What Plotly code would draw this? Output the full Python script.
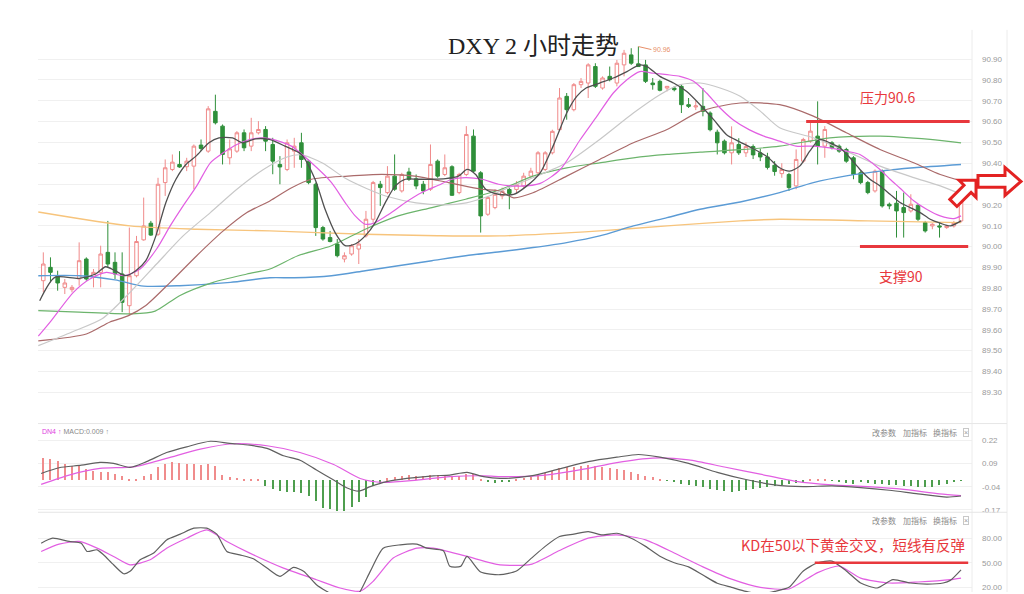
import math
import plotly.graph_objects as go

W, H = 1024, 594

# ---------------- candle data (2h bars) ----------------
OPEN = [89.836, 89.900, 89.860, 89.804, 89.793, 89.844, 89.940, 89.852, 89.876, 89.972,
        89.924, 89.868, 89.716, 89.860, 90.032, 90.112, 90.059, 90.307, 90.370, 90.394,
        90.383, 90.386, 90.487, 90.458, 90.649, 90.578, 90.426, 90.458, 90.546, 90.482,
        90.546, 90.562, 90.490, 90.394, 90.370, 90.458, 90.498, 90.410, 90.299, 90.091,
        90.043, 90.012, 89.940, 89.964, 89.988, 90.051, 90.131, 90.299, 90.259, 90.338,
        90.267, 90.358, 90.325, 90.299, 90.275, 90.410, 90.346, 90.383, 90.259, 90.346,
        90.530, 90.354, 90.155, 90.187, 90.243, 90.274, 90.274, 90.290, 90.338, 90.354,
        90.370, 90.450, 90.561, 90.721, 90.657, 90.777, 90.785, 90.864, 90.761, 90.817,
        90.785, 90.872, 90.920, 90.877, 90.872, 90.785, 90.793, 90.761, 90.761, 90.769,
        90.681, 90.670, 90.673, 90.641, 90.549, 90.506, 90.450, 90.490, 90.450, 90.480,
        90.450, 90.430, 90.390, 90.350, 90.346, 90.291, 90.410, 90.506, 90.530, 90.482,
        90.498, 90.482, 90.466, 90.426, 90.354, 90.307, 90.267, 90.362, 90.203, 90.208,
        90.187, 90.171, 90.198, 90.115, 90.099, 90.099, 90.091, 90.099, 90.123]
HIGH = [89.972, 89.948, 89.884, 89.844, 89.815, 90.020, 89.948, 89.892, 90.004, 90.123,
        89.972, 89.972, 90.091, 90.051, 90.235, 90.123, 90.330, 90.418, 90.442, 90.458,
        90.426, 90.490, 90.514, 90.674, 90.729, 90.586, 90.514, 90.554, 90.562, 90.618,
        90.602, 90.578, 90.522, 90.434, 90.514, 90.522, 90.546, 90.418, 90.307, 90.099,
        90.075, 90.036, 89.972, 90.012, 90.036, 90.171, 90.315, 90.315, 90.386, 90.442,
        90.354, 90.378, 90.346, 90.315, 90.490, 90.418, 90.442, 90.390, 90.354, 90.578,
        90.562, 90.362, 90.243, 90.275, 90.283, 90.290, 90.314, 90.354, 90.378, 90.458,
        90.458, 90.561, 90.761, 90.737, 90.785, 90.809, 90.880, 90.880, 90.817, 90.864,
        90.896, 90.944, 90.952, 90.960, 90.896, 90.809, 90.801, 90.769, 90.770, 90.777,
        90.713, 90.700, 90.761, 90.649, 90.561, 90.514, 90.577, 90.520, 90.500, 90.490,
        90.470, 90.450, 90.410, 90.400, 90.354, 90.466, 90.522, 90.594, 90.697, 90.578,
        90.506, 90.490, 90.474, 90.434, 90.362, 90.315, 90.370, 90.370, 90.211, 90.267,
        90.259, 90.251, 90.203, 90.123, 90.112, 90.115, 90.103, 90.123, 90.259]
LOW = [89.780, 89.828, 89.788, 89.772, 89.780, 89.812, 89.836, 89.804, 89.804, 89.900,
       89.844, 89.685, 89.669, 89.852, 90.028, 90.051, 90.051, 90.243, 90.362, 90.378,
       90.362, 90.275, 90.458, 90.450, 90.586, 90.394, 90.394, 90.450, 90.458, 90.458,
       90.538, 90.458, 90.347, 90.299, 90.362, 90.378, 90.378, 90.299, 90.051, 90.028,
       90.020, 89.948, 89.924, 89.956, 89.916, 90.043, 90.115, 90.195, 90.251, 90.267,
       90.259, 90.315, 90.275, 90.251, 90.267, 90.330, 90.338, 90.243, 90.251, 90.338,
       90.354, 90.067, 90.147, 90.179, 90.227, 90.179, 90.258, 90.282, 90.330, 90.338,
       90.362, 90.442, 90.553, 90.609, 90.649, 90.761, 90.713, 90.761, 90.753, 90.793,
       90.769, 90.817, 90.872, 90.864, 90.785, 90.753, 90.745, 90.745, 90.745, 90.641,
       90.665, 90.655, 90.625, 90.553, 90.442, 90.442, 90.394, 90.440, 90.430, 90.420,
       90.410, 90.370, 90.340, 90.330, 90.267, 90.275, 90.402, 90.498, 90.394, 90.426,
       90.466, 90.450, 90.402, 90.323, 90.299, 90.251, 90.259, 90.187, 90.179, 90.043,
       90.043, 90.163, 90.123, 90.067, 90.083, 90.043, 90.085, 90.091, 90.115]
CLOSE = [89.916, 89.876, 89.825, 89.825, 89.804, 89.932, 89.844, 89.876, 89.964, 89.916,
         89.868, 89.732, 89.860, 90.024, 90.099, 90.055, 90.299, 90.378, 90.405, 90.382,
         90.410, 90.482, 90.471, 90.661, 90.594, 90.442, 90.469, 90.546, 90.474, 90.546,
         90.562, 90.506, 90.410, 90.382, 90.498, 90.482, 90.418, 90.307, 90.091, 90.036,
         90.024, 89.956, 89.956, 90.004, 90.012, 90.131, 90.307, 90.283, 90.338, 90.275,
         90.346, 90.323, 90.291, 90.267, 90.394, 90.338, 90.378, 90.246, 90.346, 90.538,
         90.362, 90.147, 90.235, 90.251, 90.267, 90.255, 90.298, 90.338, 90.362, 90.450,
         90.450, 90.553, 90.713, 90.657, 90.777, 90.793, 90.872, 90.769, 90.809, 90.801,
         90.880, 90.928, 90.880, 90.864, 90.793, 90.777, 90.750, 90.769, 90.753, 90.681,
         90.673, 90.675, 90.649, 90.561, 90.498, 90.450, 90.498, 90.450, 90.480, 90.440,
         90.430, 90.380, 90.360, 90.370, 90.283, 90.418, 90.514, 90.554, 90.482, 90.562,
         90.474, 90.458, 90.410, 90.346, 90.307, 90.259, 90.362, 90.195, 90.195, 90.171,
         90.163, 90.203, 90.131, 90.075, 90.107, 90.094, 90.099, 90.115, 90.251]
IDX = list(range(len(OPEN)))

# ---------------- moving averages: (bar index, value) ----------------
MA5 = [(-0.5, 89.740), (1.6, 89.852), (5, 89.847), (7.3, 89.868), (8.7, 89.903), (10, 89.884),
       (11.5, 89.860), (12.9, 89.884), (14.3, 89.932), (15.7, 90.051), (17.1, 90.211),
       (18.5, 90.323), (19.9, 90.394), (21.3, 90.434), (23.1, 90.498), (24.5, 90.522),
       (26.4, 90.522), (27.8, 90.498), (29.6, 90.517), (31.5, 90.514), (33.7, 90.482),
       (36, 90.442), (37.9, 90.323), (39.3, 90.179), (40.7, 90.067), (42.1, 90.004),
       (43.5, 90.012), (44.9, 90.051), (46.3, 90.115), (47.7, 90.211), (49.1, 90.291),
       (50.5, 90.323), (52.3, 90.323), (54.2, 90.323), (56.1, 90.326), (57.9, 90.338),
       (59.1, 90.370), (60.3, 90.346), (61.7, 90.275), (63.5, 90.251), (65.6, 90.250),
       (67.4, 90.290), (69.3, 90.354), (71.1, 90.482), (73, 90.641), (74.4, 90.721),
       (75.7, 90.761), (77.6, 90.785), (79.5, 90.809), (81.4, 90.840), (83.2, 90.872),
       (84.2, 90.864), (86, 90.817), (87.9, 90.785), (89.7, 90.745), (91.6, 90.681),
       (93.5, 90.609), (95.3, 90.537), (97, 90.505), (99, 90.47), (101, 90.43),
       (102.7, 90.378), (104.1, 90.362), (105.5, 90.386), (106.9, 90.458), (108.3, 90.514),
       (109.7, 90.498), (111.1, 90.474), (112.5, 90.426), (113.9, 90.370), (115.3, 90.323),
       (116.7, 90.291), (118.1, 90.251), (119.5, 90.211), (120.9, 90.187), (122.3, 90.163),
       (123.7, 90.131), (125.1, 90.112), (126.5, 90.099), (128, 90.123)]
MA10 = [(-0.7, 89.57), (1, 89.64), (4.2, 89.78), (6.5, 89.844), (8.8, 89.876), (11.2, 89.860),
        (13.5, 89.892), (15.8, 89.988), (17.7, 90.099), (19.5, 90.195), (21.4, 90.291),
        (23.3, 90.402), (25.1, 90.450), (27, 90.490), (28.8, 90.514), (30.7, 90.522),
        (32.5, 90.510), (34.6, 90.482), (37.4, 90.402), (40.2, 90.307), (42.1, 90.211),
        (43.5, 90.147), (44.9, 90.107), (46.3, 90.115), (48.2, 90.155), (50.5, 90.211),
        (52.8, 90.259), (55.1, 90.294), (57, 90.323), (58.9, 90.331), (61.2, 90.323),
        (63.5, 90.299), (66.5, 90.290), (69.3, 90.303), (72.1, 90.370), (74.9, 90.514),
        (77.2, 90.625), (79.5, 90.737), (81.4, 90.801), (83.2, 90.840), (85.1, 90.832),
        (87, 90.825), (88.8, 90.817), (90.7, 90.793), (92.5, 90.737), (94.4, 90.665),
        (96.2, 90.609), (98.5, 90.56), (100.5, 90.53), (102.7, 90.506), (105, 90.482),
        (107.4, 90.482), (109.7, 90.474), (112, 90.458), (113.9, 90.442), (116.7, 90.370),
        (118.1, 90.323), (119.5, 90.280), (121.4, 90.220), (123.2, 90.179), (125.1, 90.147),
        (127, 90.134), (128, 90.147)]
MA20 = [(-0.7, 89.524), (4, 89.59), (8.2, 89.653), (12.1, 89.780), (15.8, 89.916),
        (19.5, 90.051), (23.3, 90.163), (27, 90.275), (30.7, 90.370), (34, 90.43), (36, 90.44),
        (39, 90.40), (42, 90.33), (45, 90.28), (48, 90.24), (52, 90.21), (56, 90.20),
        (59, 90.21), (62, 90.24), (64, 90.27), (68.3, 90.330), (73, 90.402), (77.6, 90.514),
        (82.3, 90.641), (86, 90.729), (88.8, 90.777), (91.6, 90.785), (94.4, 90.761),
        (97.2, 90.721), (100, 90.65), (102.7, 90.570), (107.4, 90.522), (112, 90.458),
        (116.7, 90.386), (121.4, 90.331), (125.1, 90.291), (128, 90.251)]
MA30 = [(-0.7, 89.547), (6, 89.58), (9.3, 89.638), (11.8, 89.667), (14.3, 89.717),
        (17.7, 89.828), (21.4, 89.956), (25.1, 90.075), (28.4, 90.163), (31.6, 90.219),
        (34.5, 90.28), (37.4, 90.323), (42.5, 90.338), (47.2, 90.346), (51.8, 90.338),
        (56.5, 90.307), (61.1, 90.275), (63.7, 90.266), (65.6, 90.234), (68.3, 90.258),
        (73, 90.338), (77.6, 90.418), (82.3, 90.498), (87, 90.562), (91.6, 90.649),
        (97.2, 90.689), (102.7, 90.681), (107.4, 90.626), (112, 90.546), (116.7, 90.466),
        (121.4, 90.402), (125.1, 90.346), (128, 90.315)]
MA60 = [(-0.7, 89.692), (5, 89.685), (12.4, 89.677), (15.6, 89.690), (19, 89.764),
        (23.7, 89.828), (28.4, 89.868), (31.6, 89.892), (35.5, 89.956), (40.2, 90.004),
        (44.9, 90.083), (49.5, 90.147), (54.2, 90.187), (58.9, 90.227), (63.5, 90.27),
        (68.3, 90.338), (73, 90.378), (77.6, 90.402), (82.3, 90.426), (87, 90.442),
        (91.6, 90.453), (97.2, 90.465), (102.7, 90.482), (109.7, 90.522), (116.7, 90.530),
        (123.7, 90.514), (128, 90.498)]
MA120 = [(-0.7, 89.86), (5, 89.86), (10, 89.84), (14, 89.81), (19, 89.812), (26.1, 89.828),
         (31.6, 89.85), (35, 89.85), (40.2, 89.860), (44.9, 89.884), (49.5, 89.908),
         (54.2, 89.932), (58.9, 89.956), (63.7, 89.975), (68.3, 89.995), (73, 90.019),
         (77.6, 90.051), (82.3, 90.099), (87, 90.139), (91.6, 90.179), (97.2, 90.214),
         (102.7, 90.259), (107.4, 90.307), (112, 90.339), (116.7, 90.362), (121.4, 90.378),
         (128, 90.394)]
MA250 = [(-0.7, 90.166), (12.1, 90.099), (21.4, 90.083), (31.6, 90.075), (44.9, 90.059),
         (55, 90.052), (63.7, 90.051), (77.6, 90.075), (87, 90.099), (97.2, 90.123),
         (102.7, 90.131), (115, 90.123), (128, 90.115)]

# ---------------- MACD ----------------
MACD_HIST = [0.122, 0.120, 0.105, 0.090, 0.080, 0.077, 0.062, 0.053, 0.047, 0.044,
             0.034, 0.025, 0.006, 0.008, 0.025, 0.034, 0.072, 0.090, 0.099, 0.095,
             0.090, 0.090, 0.084, 0.090, 0.077, 0.030, 0.017, 0.012, 0.003, 0.003,
             0.003, -0.031, -0.050, -0.064, -0.068, -0.068, -0.072, -0.087, -0.115, -0.156,
             -0.161, -0.171, -0.171, -0.152, -0.124, -0.096, -0.031, -0.015, 0.010, 0.017,
             0.025, 0.030, 0.025, 0.025, 0.030, 0.030, 0.030, 0.025, 0.025, 0.034,
             0.034, 0.006, -0.011, -0.015, -0.010, -0.008, 0.005, 0.012, 0.018, 0.030,
             0.040, 0.052, 0.065, 0.070, 0.075, 0.080, 0.082, 0.078, 0.072, 0.066,
             0.060, 0.055, 0.045, 0.035, 0.025, 0.015, 0.005, -0.005, -0.012, -0.020,
             -0.028, -0.035, -0.040, -0.050, -0.058, -0.062, -0.065, -0.062, -0.058, -0.052,
             -0.045, -0.040, -0.035, -0.030, -0.025, -0.015, -0.008, 0.003, 0.008, 0.005,
             -0.005, -0.010, -0.015, -0.020, -0.012, -0.018, -0.020, -0.025, -0.028, -0.030,
             -0.035, -0.035, -0.038, -0.040, -0.038, -0.030, -0.020, -0.012, -0.005]
DIF = [(-0.3, 0.034), (2.2, 0.066), (5.3, 0.080), (7.9, 0.096), (9.8, 0.090), (12.1, 0.068),
       (14.4, 0.100), (17.2, 0.151), (20, 0.183), (23.3, 0.214), (26, 0.202), (28.8, 0.192),
       (31.2, 0.174), (33.5, 0.133), (35.8, 0.108), (38.1, 0.053), (40.5, -0.003),
       (42.3, -0.046), (44, -0.065), (45.6, -0.040), (47.9, -0.012), (50.7, 0.006),
       (54.4, 0.021), (56.7, 0.025), (59.1, 0.040), (61.4, 0.016), (63.7, 0.006), (68, 0.02),
       (72, 0.06), (76, 0.10), (80, 0.125), (83, 0.14), (86, 0.125), (90, 0.09), (94, 0.04),
       (98, 0.0), (102, -0.03), (106, -0.04), (110, -0.035), (114, -0.045), (118, -0.06),
       (122, -0.08), (126, -0.098), (128, -0.092)]
DEA = [(-0.3, -0.027), (3.6, 0.025), (7.9, 0.062), (12.6, 0.071), (17.2, 0.118), (21.9, 0.170),
       (26.5, 0.200), (31.2, 0.189), (35.8, 0.151), (40.5, 0.084), (44.2, 0.006),
       (47.4, -0.016), (52.1, -0.003), (56.7, 0.016), (61.4, 0.021), (63.7, 0.016), (70, 0.025),
       (75, 0.055), (80, 0.095), (85, 0.12), (90, 0.11), (95, 0.07), (100, 0.03), (105, -0.01),
       (110, -0.03), (115, -0.04), (120, -0.055), (125, -0.08), (128, -0.09)]

# ---------------- KD ----------------
KD_K = [(-0.3, 73.9), (1.3, 80), (3.6, 76), (5.3, 73.9), (6.1, 63.8), (7.5, 65.8), (8.4, 59.7),
        (9.8, 47.5), (11.2, 36.6), (12.1, 39.5), (13.5, 53.6), (15.4, 61.8), (17.2, 77.9),
        (19.1, 84.9), (21, 92.2), (22.8, 92.2), (24.2, 84.9), (25.6, 63.8), (27.4, 59.7),
        (29.3, 54.8), (31.2, 43.5), (33, 33.4), (34.9, 44.4), (36.3, 39.5), (38.1, 23.2),
        (39.5, 15.2), (41, 8), (43, 5), (44.2, 15.2), (45.6, 39.5), (47.4, 67.8), (49.8, 71.9),
        (52.1, 72.7), (53.5, 67.8), (55.8, 64.6), (56.7, 45.6), (58.2, 45.6), (59.1, 57.7),
        (61, 38.6), (63.7, 35.4), (66, 40), (68, 55), (70, 70), (72, 82), (74, 85), (76, 88),
        (78, 84), (80, 86), (82, 80), (84, 70), (86, 58), (88, 50), (90, 45), (92, 35),
        (94, 25), (96, 20), (98, 15), (100, 12), (102, 15), (104, 20), (106, 40), (108, 50),
        (110, 52), (112, 40), (114, 25.3), (116.3, 19.2), (118.5, 29.3), (120.9, 25.3),
        (123.3, 24), (125.5, 25.3), (126.5, 28.5), (128, 41.4)]
KD_D = [(-0.3, 63.8), (2.2, 72.7), (5, 76), (7.5, 67.8), (9.8, 57.7), (12.1, 47.5), (14.9, 53.6),
        (17.2, 67.8), (20, 80), (22.8, 90.1), (25.6, 76), (28.8, 61.8), (33.5, 43.5),
        (38.1, 29.3), (41.4, 19.2), (44.2, 15.2), (46, 27.3), (48.8, 55.7), (52.1, 67.8),
        (54.4, 67.8), (59.1, 57.7), (63.7, 47.5), (68, 48), (72, 65), (76, 80), (80, 84),
        (84, 78), (88, 62), (92, 45), (96, 30), (100, 20), (104, 18), (108, 38), (111, 46),
        (114, 31.3), (118, 25.3), (122, 26.5), (126.5, 29.3), (128, 31.3)]

MAIN_TICKS = [90.9, 90.8, 90.7, 90.6, 90.5, 90.4, 90.3, 90.2, 90.1, 90.0,
              89.9, 89.8, 89.7, 89.6, 89.5, 89.4, 89.3]
MACD_TICKS = [0.22, 0.09, -0.04, -0.17]
KD_TICKS = [80, 50, 20]
RESIST, SUPPORT, KD_LEVEL, PEAK = 90.6, 90.0, 50, 90.96
PEAK_BAR = 83

# ---------------- figure ----------------
def px(x):
    return x / W


def py(y):
    return 1 - y / H


fig = go.Figure()
fig.add_trace(go.Candlestick(
    x=IDX, open=OPEN, high=HIGH, low=LOW, close=CLOSE,
    increasing=dict(line=dict(color='#f08a8a', width=1), fillcolor='#ffffff'),
    decreasing=dict(line=dict(color='#2f8f3a', width=1), fillcolor='#2f8f3a'),
    whiskerwidth=0, showlegend=False, hoverinfo='skip', xaxis='x', yaxis='y'))

MA_STYLE = [(MA250, '#f7c47c', 1.4), (MA120, '#5b9bd5', 1.4), (MA60, '#6cb46c', 1.2),
            (MA30, '#aa6a6a', 1.2), (MA20, '#c8c8c8', 1.2), (MA10, '#e25fe2', 1.2),
            (MA5, '#505050', 1.3)]
for data, col, w in MA_STYLE:
    fig.add_trace(go.Scatter(x=[p[0] for p in data], y=[p[1] for p in data], mode='lines',
                             line=dict(color=col, width=w, shape='spline', smoothing=0.7),
                             showlegend=False, hoverinfo='skip', xaxis='x', yaxis='y'))

fig.add_trace(go.Bar(x=IDX, y=MACD_HIST, width=0.16,
                     marker=dict(color=['#f08c8c' if v >= 0 else '#4e9e4e' for v in MACD_HIST],
                                 line=dict(width=0)),
                     showlegend=False, hoverinfo='skip', xaxis='x2', yaxis='y2'))
for data, col in [(DEA, '#e25fe2'), (DIF, '#606060')]:
    fig.add_trace(go.Scatter(x=[p[0] for p in data], y=[p[1] for p in data], mode='lines',
                             line=dict(color=col, width=1.2, shape='spline', smoothing=0.7),
                             showlegend=False, hoverinfo='skip', xaxis='x2', yaxis='y2'))
for data, col in [(KD_D, '#e25fe2'), (KD_K, '#606060')]:
    fig.add_trace(go.Scatter(x=[p[0] for p in data], y=[p[1] for p in data], mode='lines',
                             line=dict(color=col, width=1.2, shape='spline', smoothing=0.6),
                             showlegend=False, hoverinfo='skip', xaxis='x3', yaxis='y3'))

XR = [-0.74, 129.53]
XD = [px(38), px(972)]
xcommon = dict(domain=XD, range=XR, showticklabels=False, showgrid=False, zeroline=False,
               showline=False, ticks='')
ycommon = dict(side='right', showline=False, zeroline=False, ticks='', gridcolor='#f0f0f0',
               gridwidth=1, tickfont=dict(size=8, color='#9a9a9a', family='Liberation Sans'),
               ticklabelstandoff=9)

fig.update_layout(
    width=W, height=H, margin=dict(l=0, r=0, t=0, b=0),
    paper_bgcolor='white', plot_bgcolor='white', showlegend=False, bargap=0,
    xaxis=dict(**xcommon, anchor='y', rangeslider=dict(visible=False)),
    xaxis2=dict(**xcommon, anchor='y2', matches='x'),
    xaxis3=dict(**xcommon, anchor='y3', matches='x'),
    yaxis=dict(**ycommon, domain=[py(420), py(30)], range=[89.174, 91.040], anchor='x',
               tickvals=MAIN_TICKS, ticktext=['%.2f' % v for v in MAIN_TICKS]),
    yaxis2=dict(**ycommon, domain=[py(514), py(437)], range=[-0.183, 0.246], anchor='x2',
                tickvals=MACD_TICKS, ticktext=['%.2f' % v for v in MACD_TICKS]),
    yaxis3=dict(**ycommon, domain=[0, py(528)], range=[14.3, 94.6], anchor='x3',
                tickvals=KD_TICKS, ticktext=['%.2f' % v for v in KD_TICKS]),
)

RED = '#e8383d'
shapes = [
    dict(type='line', xref='x', yref='y', x0=106.4, x1=129.2, y0=RESIST, y1=RESIST,
         line=dict(color=RED, width=3)),
    dict(type='line', xref='x', yref='y', x0=113.9, x1=129.0, y0=SUPPORT, y1=SUPPORT,
         line=dict(color=RED, width=3)),
    dict(type='line', xref='x3', yref='y3', x0=107.6, x1=129.0, y0=KD_LEVEL, y1=KD_LEVEL,
         line=dict(color=RED, width=2.5)),
    # frame lines
    dict(type='line', xref='paper', yref='paper', x0=px(972), x1=px(972), y0=0, y1=py(30),
         line=dict(color='#ececec', width=1)),
    dict(type='line', xref='paper', yref='paper', x0=px(1007), x1=px(1007), y0=0, y1=py(30),
         line=dict(color='#ececec', width=1)),
    dict(type='line', xref='paper', yref='paper', x0=px(38), x1=px(1007), y0=py(425), y1=py(425),
         line=dict(color='#e6e6e6', width=1)),
    dict(type='line', xref='paper', yref='paper', x0=px(38), x1=px(1007), y0=py(514), y1=py(514),
         line=dict(color='#e6e6e6', width=1)),
]


def arrow_path(cx, cy, ang, back, front, sw, hw, hl):
    a = math.radians(ang)
    dx, dy = math.cos(a), -math.sin(a)
    nx, ny = -dy, dx
    loc = [(-back, -sw), (front - hl, -sw), (front - hl, -hw), (front, 0),
           (front - hl, hw), (front - hl, sw), (-back, sw)]
    pts = [(cx + u * dx + v * nx, cy + u * dy + v * ny) for u, v in loc]
    return 'M ' + ' L '.join('%.5f,%.5f' % (px(x), py(y)) for x, y in pts) + ' Z'


for cx, cy, ang, back, front, sw, hw, hl in [(996, 182, 0, 18, 25, 6, 14, 16),
                                             (964, 193, 45, 15, 17, 5, 12, 12)]:
    shapes.append(dict(type='path', xref='paper', yref='paper',
                       path=arrow_path(cx, cy, ang, back, front, sw, hw, hl),
                       line=dict(color='#e32222', width=3), fillcolor='white'))
fig.update_layout(shapes=shapes)

CJK = 'Noto Sans CJK SC'
ann = [
    dict(x=px(533), y=py(46), text='DXY 2 小时走势', showarrow=False,
         font=dict(size=24, color='#222222', family='Liberation Serif, ' + CJK)),
    dict(x=px(887), y=py(97), text='压力90.6', showarrow=False,
         font=dict(size=14, color=RED, family=CJK)),
    dict(x=px(901), y=py(277), text='支撑90', showarrow=False,
         font=dict(size=14, color=RED, family=CJK)),
    dict(x=px(967), y=py(546), xanchor='right', text='KD在50以下黄金交叉，短线有反弹',
         showarrow=False, font=dict(size=14.5, color=RED, family=CJK)),
    dict(x=PEAK_BAR, y=PEAK, xref='x', yref='y', text='90.96', showarrow=True, arrowhead=0,
         arrowwidth=1, arrowcolor='#e8906a', ax=13, ay=3, xanchor='left',
         font=dict(size=7, color='#e8906a', family='Liberation Sans')),
    dict(x=px(40), y=py(433), xanchor='left', showarrow=False,
         text="<span style='color:#e040e0'>DN4 ↑</span> MACD:0.009 ↑",
         font=dict(size=7, color='#8a8a8a', family='Liberation Sans')),
]
for yy in (434, 522):
    for xx, t in [(870, '改参数'), (901, '加指标'), (931, '换指标')]:
        ann.append(dict(x=px(xx), y=py(yy), xanchor='left', text=t, showarrow=False,
                        font=dict(size=8, color='#8a8a8a', family=CJK)))
    ann.append(dict(x=px(966), y=py(yy), text='×', showarrow=False, borderpad=0,
                    bordercolor='#c8c8c8', borderwidth=1,
                    font=dict(size=7, color='#999999', family='Liberation Sans')))
for a in ann:
    a.setdefault('xref', 'paper')
    a.setdefault('yref', 'paper')
    a.setdefault('xanchor', 'center')
    a.setdefault('yanchor', 'middle')
fig.update_layout(annotations=ann)

fig.write_html('out.html', config={'displayModeBar': False},
               post_script="document.body.style.margin='0';")
